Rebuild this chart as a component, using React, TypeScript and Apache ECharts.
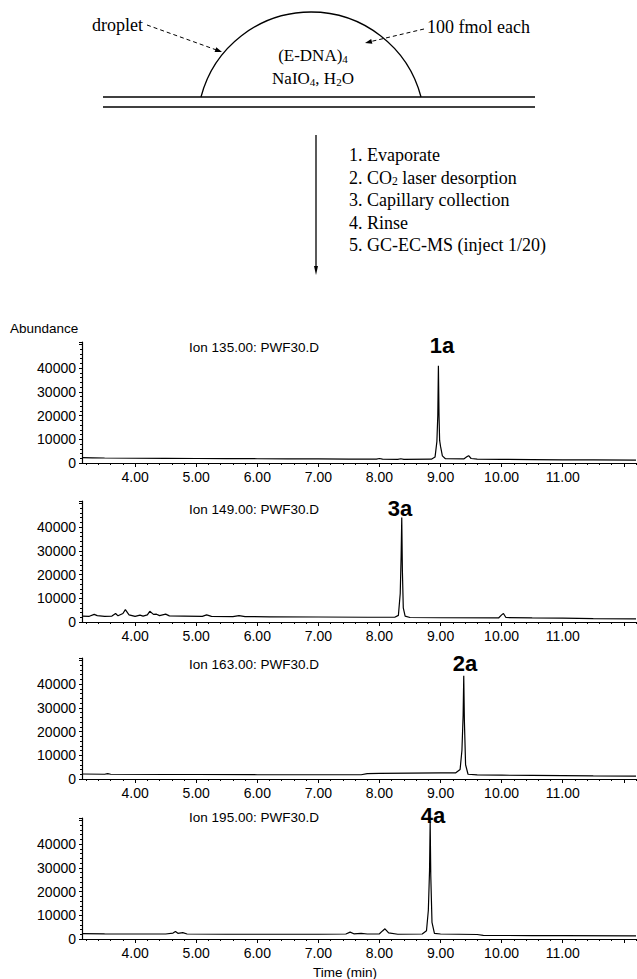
import React, { useEffect, useRef } from 'react';
import * as echarts from 'echarts';

// ---------- data ----------
const ionTitles = ['Ion 135.00: PWF30.D', 'Ion 149.00: PWF30.D', 'Ion 163.00: PWF30.D', 'Ion 195.00: PWF30.D'];
const peakLabels = ['1a', '3a', '2a', '4a'];
const xTickLabels = [4, 5, 6, 7, 8, 9, 10, 11];
const xMajorTicks = [4, 5, 6, 7, 8, 9, 10, 11, 12];
const yTickLabels = [0, 10000, 20000, 30000, 40000];
const procedureSteps = [
  '1. Evaporate',
  '2. CO{s|2} laser desorption',
  '3. Capillary collection',
  '4. Rinse',
  '5. GC-EC-MS (inject 1/20)',
];

const ion135: [number, number][] = [
  [3.13, 2300], [3.3, 2200], [3.5, 2100], [4.0, 2000], [4.5, 1950], [5.0, 1900], [5.5, 1850],
  [6.0, 1800], [6.5, 1750], [7.0, 1700], [7.5, 1650], [7.95, 1600], [8.0, 1900], [8.05, 1600],
  [8.3, 1550], [8.35, 1800], [8.4, 1550], [8.85, 1600], [8.91, 2500], [8.94, 9000], [8.955, 20000],
  [8.965, 41000], [8.975, 20000], [8.985, 9500], [9.0, 7000], [9.03, 3000], [9.08, 1800],
  [9.38, 1700], [9.43, 2600], [9.46, 3100], [9.5, 1900], [9.6, 1600], [10.0, 1500], [10.5, 1450],
  [11.0, 1350], [11.5, 1300], [12.2, 1250],
];
const ion149: [number, number][] = [
  [3.13, 2500], [3.25, 2400], [3.33, 3200], [3.38, 2700], [3.5, 2400], [3.62, 2500], [3.68, 3600],
  [3.72, 2600], [3.8, 3600], [3.84, 5200], [3.9, 3000], [4.0, 2400], [4.08, 2900], [4.13, 2500],
  [4.2, 3000], [4.24, 4500], [4.3, 3200], [4.35, 3300], [4.4, 2700], [4.5, 3300], [4.56, 2600],
  [4.8, 2500], [5.1, 2400], [5.17, 3000], [5.25, 2400], [5.6, 2300], [5.7, 2700], [5.8, 2300],
  [6.2, 2200], [7.0, 2100], [7.8, 2000], [8.25, 2000], [8.31, 2800], [8.34, 12000], [8.355, 28000],
  [8.365, 44000], [8.375, 22000], [8.39, 6000], [8.42, 2500], [8.5, 1900], [9.0, 1800], [9.95, 1700],
  [10.0, 3000], [10.03, 3600], [10.07, 1900], [10.5, 1700], [11.0, 1600], [11.5, 1400], [12.2, 1300],
];
const ion163: [number, number][] = [
  [3.13, 2100], [3.5, 2000], [3.55, 2300], [3.6, 2000], [4.5, 1900], [5.0, 1900], [6.0, 1800],
  [7.0, 1800], [7.7, 1800], [7.8, 2300], [8.0, 2400], [8.5, 2500], [9.0, 2600], [9.25, 2600],
  [9.32, 4000], [9.35, 12000], [9.37, 27000], [9.38, 43500], [9.39, 25000], [9.41, 6000],
  [9.45, 2000], [9.6, 1700], [10.0, 1600], [10.5, 1500], [11.0, 1450], [11.5, 1300], [12.2, 1200],
];
const ion195: [number, number][] = [
  [3.13, 2300], [3.5, 2200], [4.0, 2100], [4.5, 2100], [4.62, 2500], [4.66, 3200], [4.7, 2400],
  [4.78, 2700], [4.85, 2100], [5.5, 2000], [6.0, 2000], [6.5, 2000], [7.0, 2000], [7.45, 2100],
  [7.52, 2900], [7.58, 2200], [7.7, 2400], [7.8, 2100], [8.0, 2200], [8.05, 3400], [8.09, 4300],
  [8.15, 2600], [8.3, 2000], [8.7, 2100], [8.77, 3500], [8.8, 12000], [8.82, 29000], [8.83, 49500],
  [8.84, 27000], [8.86, 7000], [8.9, 2400], [9.0, 2100], [9.3, 2000], [9.6, 1900], [9.7, 1500],
  [10.5, 1450], [11.0, 1400], [12.2, 1300],
];
const chromatograms = [ion135, ion149, ion163, ion195];

// ---------- layout ----------
const SANS = 'Liberation Sans, Arial, sans-serif';
const SERIF = 'Liberation Serif, Times New Roman, serif';
const panelTops = [342, 501, 658, 818];
const panelHeight = 121;
const titleY = [347, 509, 664, 817];
const peakLabelPos: [number, number][] = [[442, 345], [400, 508], [465, 663], [433, 815]];

export default function App() {
  const ref = useRef<HTMLDivElement>(null);
  useEffect(() => {
    document.body.style.margin = '0';
    const chart = echarts.init(ref.current!, null, { renderer: 'svg' });

    const minorTimes: number[] = [];
    for (let t = 32; t <= 122; t += 2) minorTimes.push(t / 10);

    const grid = panelTops.map((t) => ({ left: 82, right: 1, top: t, height: panelHeight }));
    const xAxis: any[] = [];
    panelTops.forEach((_, i) => {
      xAxis.push({
        type: 'value', gridIndex: i, min: 3.13, max: 12.2, position: 'bottom',
        axisLine: { show: true, onZero: false, lineStyle: { color: '#000', width: 1.2 } },
        axisTick: { show: true, customValues: xMajorTicks, length: 4, lineStyle: { color: '#000' } },
        axisLabel: {
          customValues: xTickLabels, formatter: (v: number) => v.toFixed(2),
          fontSize: 14, color: '#000', fontFamily: SANS, margin: 7,
        },
        splitLine: { show: false },
      });
      xAxis.push({
        type: 'value', gridIndex: i, min: 3.13, max: 12.2, position: 'bottom', offset: 0,
        axisLine: { show: false },
        axisTick: { show: true, customValues: minorTimes, length: 2, lineStyle: { color: '#000' } },
        axisLabel: { show: false },
        splitLine: { show: false },
      });
    });
    const yAxis = panelTops.map((_, i) => ({
      type: 'value', gridIndex: i, min: 0, max: 51000, interval: 10000,
      axisLine: { show: true, lineStyle: { color: '#000', width: 1.2 } },
      axisTick: { show: true, length: 3, lineStyle: { color: '#000' } },
      minorTick: { show: true, splitNumber: 5, length: 2, lineStyle: { color: '#000' } },
      axisLabel: {
        formatter: (v: number) => (yTickLabels.includes(v) ? String(v) : ''),
        fontSize: 14, color: '#000', fontFamily: SANS, margin: 6,
      },
      splitLine: { show: false },
    }));
    const series = chromatograms.map((d, i) => ({
      type: 'line', xAxisIndex: i * 2, yAxisIndex: i, data: d, showSymbol: false, silent: true,
      lineStyle: { color: '#000', width: 1.2 },
    }));

    const textEl = (x: number, y: number, text: string, size: number, family: string, align = 'left', weight = 'normal', rich?: any) => ({
      type: 'text', x, y,
      style: { text, fontSize: size, fontFamily: family, fontWeight: weight, fill: '#000', align, verticalAlign: 'middle', rich },
    });
    const subRich = (size: number) => ({ s: { fontSize: size * 0.65, fontFamily: SERIF, fill: '#000', padding: [8, 0, 0, 0] } });

    const graphic: any[] = [
      // droplet diagram
      { type: 'arc', shape: { cx: 311, cy: 125.7, r: 113.7, startAngle: Math.PI + 0.2552, endAngle: 2 * Math.PI - 0.2552, clockwise: true }, style: { stroke: '#000', lineWidth: 1.3, fill: 'none' } },
      { type: 'line', shape: { x1: 103, y1: 97, x2: 535, y2: 97 }, style: { stroke: '#000', lineWidth: 1.4 } },
      { type: 'line', shape: { x1: 103, y1: 107, x2: 535, y2: 107 }, style: { stroke: '#000', lineWidth: 1.4 } },
      { type: 'line', shape: { x1: 147, y1: 25, x2: 216, y2: 49.8 }, style: { stroke: '#000', lineWidth: 1, lineDash: [4, 3] } },
      { type: 'polygon', shape: { points: [[222, 52], [214.6, 52], [216.3, 47.3]] }, style: { fill: '#000' } },
      { type: 'line', shape: { x1: 424, y1: 29, x2: 371, y2: 41.5 }, style: { stroke: '#000', lineWidth: 1, lineDash: [4, 3] } },
      { type: 'polygon', shape: { points: [[365, 43], [371.2, 39], [372.4, 43.8]] }, style: { fill: '#000' } },
      textEl(143, 25, 'droplet', 18, SERIF, 'right'),
      textEl(427, 27, '100 fmol each', 18, SERIF, 'left'),
      textEl(313, 55, '(E-DNA){s|4}', 17, SERIF, 'center', 'normal', subRich(17)),
      textEl(313, 78, 'NaIO{s|4}, H{s|2}O', 17, SERIF, 'center', 'normal', subRich(17)),
      // process arrow
      { type: 'line', shape: { x1: 316, y1: 135, x2: 316, y2: 268 }, style: { stroke: '#000', lineWidth: 1.3 } },
      { type: 'polygon', shape: { points: [[316, 275], [314, 266], [318, 266]] }, style: { fill: '#000' } },
      ...procedureSteps.map((s, i) => textEl(349, 155 + i * 22.5, s, 18, SERIF, 'left', 'normal', subRich(18))),
      // chromatogram annotations
      textEl(10, 328, 'Abundance', 13.5, SANS, 'left'),
      ...ionTitles.map((t, i) => textEl(254, titleY[i], t, 13.5, SANS, 'center')),
      ...peakLabels.map((t, i) => textEl(peakLabelPos[i][0], peakLabelPos[i][1], t, 22, SANS, 'center', 'bold')),
      textEl(345, 972, 'Time (min)', 13.5, SANS, 'center'),
    ];

    chart.setOption({ animation: false, backgroundColor: '#fff', grid, xAxis, yAxis, series, graphic });
    return () => chart.dispose();
  }, []);
  return <div ref={ref} style={{ position: 'absolute', left: 0, top: 0, width: 637, height: 979 }} />;
}
